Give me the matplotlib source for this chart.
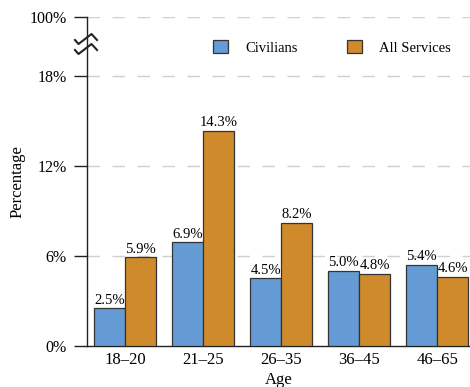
import matplotlib
matplotlib.use("Agg")
import matplotlib.pyplot as plt
import numpy as np
from matplotlib.lines import Line2D

categories = ["18–20", "21–25", "26–35", "36–45", "46–65"]
civilians = [2.5, 6.9, 4.5, 5.0, 5.4]
all_services = [5.9, 14.3, 8.2, 4.8, 4.6]
ytick_vals = [0, 6, 12, 18, 21.9]
ytick_labels = ["0%", "6%", "12%", "18%", "100%"]

plt.rcParams['font.family'] = ['Liberation Serif', 'DejaVu Serif']

W, H = 470, 387
fig = plt.figure(figsize=(W/100, H/100), dpi=100)
ax = fig.add_axes([87/W, 1-346/H, (470-87)/W, (346-17)/H])

x = np.arange(len(categories))
w = 0.4
blue = "#659bd4"
orange = "#cf8a2c"
ec = "#333333"
b1 = ax.bar(x - w/2, civilians, w, color=blue, edgecolor=ec, linewidth=0.9, label="Civilians", zorder=3)
b2 = ax.bar(x + w/2, all_services, w, color=orange, edgecolor=ec, linewidth=0.9, label="All Services", zorder=3)

for bars, vals in ((b1, civilians), (b2, all_services)):
    for r, v in zip(bars, vals):
        ax.text(r.get_x() + r.get_width()/2, v + 0.12, f"{v:.1f}%", ha="center", va="bottom",
                fontsize=10.5, zorder=4)

ax.set_xlim(-0.49, 4.42)
ax.set_ylim(0, 21.9)
ax.set_yticks(ytick_vals)
ax.set_yticklabels(ytick_labels, fontsize=11.5)
ax.set_xticks(x)
ax.set_xticklabels(categories, fontsize=12)
ax.tick_params(axis='x', length=0, pad=4)
ax.tick_params(axis='y', length=9.5, width=1, pad=5, color="#222222")

for yv in ytick_vals[1:]:
    ax.axhline(yv, color="#d0d0d0", linestyle=(0, (9, 9)), linewidth=1, zorder=0)

for s in ("top", "right"):
    ax.spines[s].set_visible(False)
for s in ("left", "bottom"):
    ax.spines[s].set_color("#222222")
    ax.spines[s].set_linewidth(1)

ax.set_ylabel("Percentage", fontsize=12, labelpad=3)
ax.set_xlabel("Age", fontsize=12, labelpad=3)

leg = ax.legend(loc="upper right", bbox_to_anchor=(0.985, 0.97), ncol=2, frameon=False,
                fontsize=10.5, handlelength=1.0, handleheight=1.0, handletextpad=1.2,
                columnspacing=3.4)

# axis break marker
def px(xp, yp):
    return xp/W, 1 - yp/H
for dy in (0, 10):
    pts = [(75, 40+dy), (78.5, 44+dy), (91.5, 34+dy), (97, 40+dy)]
    xs, ys = zip(*[px(*p) for p in pts])
    fig.add_artist(Line2D(xs, ys, color="#222222", linewidth=1.5, transform=fig.transFigure))

fig.savefig("out.png", dpi=100)
